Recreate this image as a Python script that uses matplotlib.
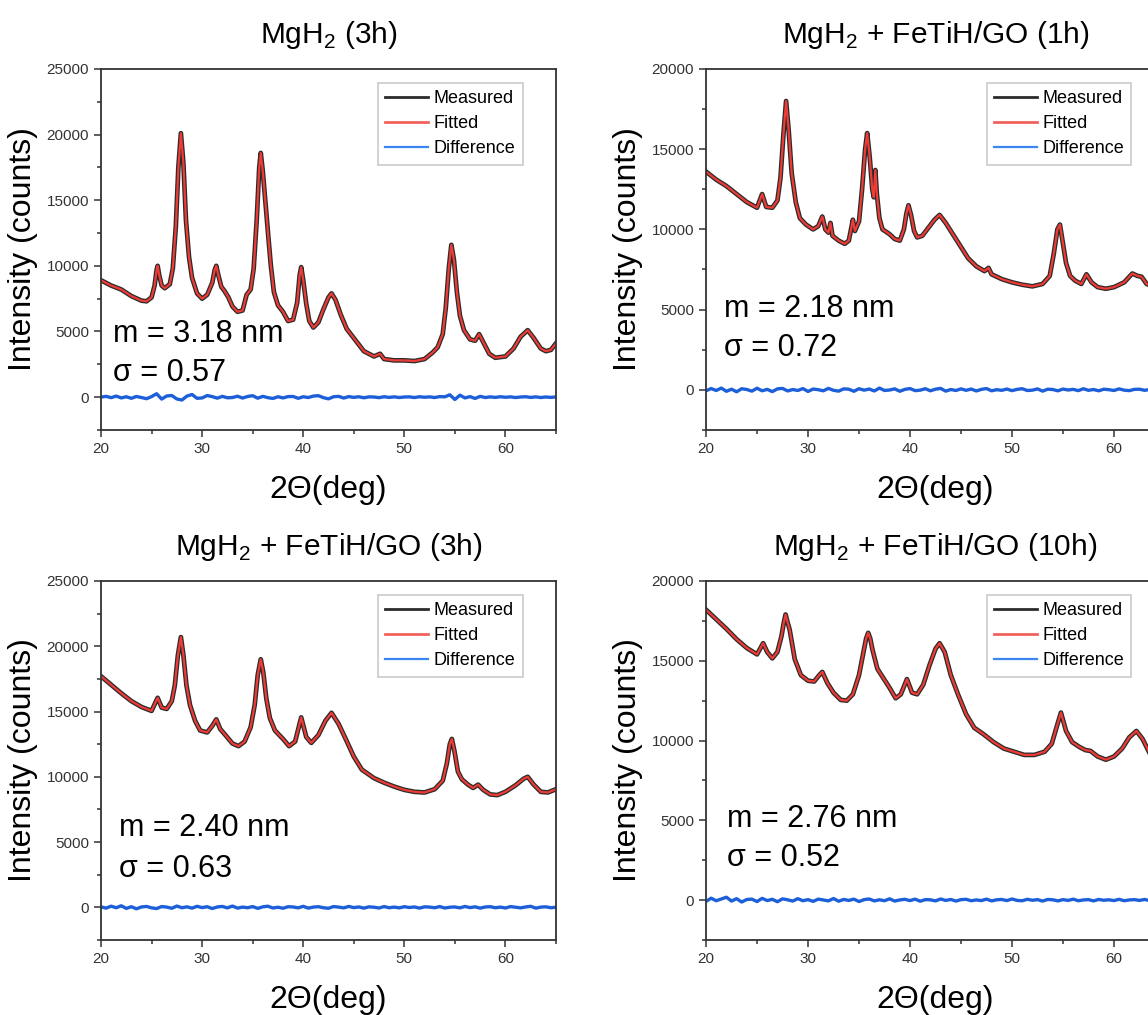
import matplotlib
matplotlib.use("Agg")
import matplotlib.pyplot as plt
from matplotlib.ticker import MultipleLocator
import numpy as np

plt.rcParams['font.family'] = ['Liberation Sans', 'DejaVu Sans']
plt.rcParams['mathtext.fontset'] = 'custom'
plt.rcParams['mathtext.rm'] = 'Liberation Sans'

# ---- panel (a): MgH2 (3h) ----
x_a = [20, 21, 22, 23, 24, 24.5, 25, 25.3, 25.5, 25.6, 25.75, 26.0, 26.3, 26.8, 27.1, 27.4, 27.65, 27.9,
       28.15, 28.4, 28.7, 29.0, 29.5, 30, 30.5, 31.0, 31.25, 31.4, 31.6, 31.9, 32.2, 32.6, 33, 33.5, 34.0,
       34.4, 34.8, 35.1, 35.4, 35.65, 35.8, 36.0, 36.3, 36.55, 36.8, 37.1, 37.5, 38, 38.5, 39.0, 39.4, 39.65,
       39.8, 40.0, 40.3, 40.6, 41.0, 41.5, 42.0, 42.5, 42.8, 43.2, 43.7, 44.3, 45, 46, 47, 47.6, 48, 49, 50,
       51, 52, 52.8, 53.3, 53.8, 54.1, 54.4, 54.65, 54.9, 55.2, 55.5, 55.9, 56.5, 57.0, 57.4, 57.8, 58.4, 59,
       60, 60.8, 61.5, 62.2, 62.8, 63.5, 64, 64.5, 65]
meas_a = [8900, 8500, 8200, 7700, 7350, 7300, 7600, 8500, 9700, 10000, 9300, 8500, 8300, 8600, 9800, 13000,
          17500, 20100, 17800, 13500, 10700, 9100, 7900, 7500, 7800, 8700, 9700, 10000, 9300, 8400, 8100,
          7600, 6900, 6500, 6600, 7800, 8200, 9800, 13500, 17500, 18600, 17200, 14500, 12200, 10000, 8000,
          7000, 6500, 5800, 5900, 7200, 9300, 9900, 8900, 7100, 5800, 5300, 5700, 6700, 7600, 7900, 7400,
          6300, 5200, 4500, 3500, 3100, 3300, 2900, 2800, 2800, 2750, 2900, 3400, 3800, 4800, 6800, 9800,
          11600, 10500, 8000, 6200, 5100, 4400, 4300, 4800, 4200, 3300, 3000, 3100, 3700, 4600, 5100, 4500,
          3700, 3500, 3600, 4100]
fit_a = meas_a
diff_a = [0, 60, -40, 80, -60, 30, -90, 50, -30, -120, 40, 260, -150, 90, 120, -140, -220, 80, 200, -90,
          -60, 120, 40, -80, 60, -50, -30, 70, -70, 50, 110, -80, 60, -40, -100, 30, -60, 40, 50, -90,
          30, -30, 80, 110, -40, -130, 30, 60, -70, 40, -20, 30, -50, 20, 10, -40, 30, -20, 20, -30,
          10, 20, -30, 30, -10, 20, -30, 40, 20, 180, -180, 150, -60, 40, -100, 60, -30, 20, -20, 30,
          -10, 20, -30, 10, 30, -20, 20, -30, 10, -20, 20]

# ---- panel (b): MgH2 + FeTiH/GO (1h) ----
x_b = [20, 21, 22, 23, 24, 25, 25.5, 25.9, 26.5, 27.0, 27.3, 27.6, 27.85, 28.1, 28.4, 28.8, 29.2, 29.8, 30.5,
       31.0, 31.4, 31.7, 32.0, 32.2, 32.4, 33.0, 33.6, 34.0, 34.4, 34.6, 35.0, 35.3, 35.6, 35.8, 36.05, 36.3,
       36.45, 36.6, 36.75, 37.0, 37.3, 38, 38.5, 39.0, 39.4, 39.65, 39.85, 40.1, 40.4, 40.7, 41.2, 41.8, 42.4,
       42.9, 43.5, 44.2, 45.0, 45.7, 46.5, 47.3, 47.7, 48.0, 49, 50, 51, 52, 53, 53.7, 54.1, 54.45, 54.7,
       54.95, 55.3, 55.7, 56.2, 56.8, 57.3, 57.8, 58.4, 59.2, 60, 61, 61.8, 62.3, 62.7, 63.2, 64, 65]
meas_b = [13600, 13100, 12700, 12200, 11700, 11350, 12200, 11400, 11350, 11800, 13200, 16000, 18000, 16200,
          13500, 11700, 10700, 10300, 10000, 10200, 10800, 10000, 9800, 10400, 9600, 9300, 9100, 9300, 10600,
          9900, 10500, 12500, 15000, 16000, 14500, 12500, 12000, 13700, 12200, 10700, 10000, 9700, 9400, 9300,
          10000, 11000, 11500, 10900, 9900, 9500, 9600, 10100, 10600, 10900, 10400, 9700, 8900, 8200, 7700,
          7400, 7600, 7200, 6900, 6700, 6550, 6450, 6600, 7100, 8500, 10000, 10300, 9300, 7900, 7100, 6800,
          6600, 7200, 6700, 6400, 6300, 6400, 6700, 7250, 7100, 7050, 6600, 6400, 6300]
fit_b = meas_b
diff_b = [-60, 80, -40, 110, -90, 40, -120, 70, 20, -80, 100, -60, 30, -110, 60, 90, -70, 20, -40, 80,
          -100, 50, 10, -60, 90, -30, -80, 60, 40, -90, 70, -20, 50, -70, 110, -40, -10, 60, -90, 30,
          80, -50, -20, 70, -60, 40, 90, -80, 20, -40, 60, -30, 50, -70, 30, 80, -60, 10, -30, 50,
          -50, 30, 70, -40, -20, 60, -80, 40, 20, -60, 50, -10, 30, -50, 70, -30, 20, -60, 40, 10,
          -40, 60, -20, -50, 30, 40, -30, 20, -60, 30, -20]

# ---- panel (c): MgH2 + FeTiH/GO (3h) ----
x_c = [20, 21, 22, 23, 24, 25, 25.6, 26.0, 26.5, 27.0, 27.3, 27.6, 27.9, 28.15, 28.45, 28.8, 29.3, 29.8, 30.5,
       31.0, 31.4, 31.8, 32.3, 33.0, 33.6, 34.2, 34.8, 35.2, 35.5, 35.8, 36.05, 36.35, 36.7, 37.2, 38.0, 38.6,
       39.2, 39.8, 40.3, 40.8, 41.5, 42.2, 42.8, 43.5, 44.2, 45.0, 45.8, 47, 48, 49, 50, 51, 52, 53, 53.8,
       54.2, 54.5, 54.7, 54.95, 55.3, 55.7, 56.3, 56.8, 57.3, 57.8, 58.5, 59.2, 60, 61, 61.8, 62.2, 62.8,
       63.5, 64.2, 65]
meas_c = [17700, 17050, 16400, 15800, 15350, 15050, 16050, 15300, 15200, 15800, 17000, 19300, 20700, 19300,
          17000, 15500, 14300, 13550, 13400, 13900, 14400, 13650, 13200, 12550, 12350, 12700, 13800, 15500,
          17800, 19000, 18000, 16000, 14500, 13550, 12900, 12350, 12700, 14550, 13050, 12600, 13200, 14300,
          14900, 14050, 12900, 11550, 10550, 9900, 9550, 9250, 9000, 8850, 8800, 9050, 9700, 11000, 12500,
          12900, 12000, 10400, 9800, 9400, 9150, 9400, 9000, 8650, 8600, 8850, 9350, 9850, 10000, 9400, 8850,
          8800, 9050]
fit_c = meas_c
diff_c = [40, -60, 90, -30, 120, -80, 50, -110, 30, 70, -40, -90, 60, 20, -70, 100, -30, 40, -60, 80,
          -20, 50, -90, 30, 70, -40, 100, -60, 20, -30, 60, -80, 40, 90, -50, 10, -70, 50, 30, -40,
          80, -60, 20, 50, -30, -70, 60, 20, -40, 70, -20, 30, -60, 40, 10, -50, 60, -30, 20, -40,
          50, -10, 30, -60, 40, 20, -30, 60, -50, 10, 30, -40, 70, -20, 40, -60, 30, 50, -30, 20,
          -50, 60, 10, -40, 30, 80, -60, 20, 40, -30, 10]

# ---- panel (d): MgH2 + FeTiH/GO (10h) ----
x_d = [20, 21, 22, 23, 24, 25, 25.6, 26.0, 26.5, 27.0, 27.4, 27.6, 27.8, 28.0, 28.2, 28.7, 29.3, 30.0, 30.6,
       31.1, 31.4, 31.9, 32.5, 33.2, 33.8, 34.4, 35.0, 35.5, 35.7, 35.9, 36.1, 36.3, 36.8, 37.4, 38.0, 38.6,
       39.1, 39.7, 40.2, 40.7, 41.3, 41.9, 42.5, 42.9, 43.4, 44.0, 44.7, 45.5, 46.3, 47.2, 48.2, 49.2, 50.2,
       51.2, 52.2, 53.2, 53.9, 54.4, 54.8, 55.3, 55.9, 56.6, 57.2, 57.7, 58.4, 59.2, 60.0, 60.8, 61.5, 62.2,
       62.8, 63.5, 64, 65]
meas_d = [18200, 17600, 17000, 16350, 15800, 15400, 16100, 15550, 15150, 15550, 16550, 17300, 17900, 17400,
          16950, 15100, 14100, 13750, 13700, 14100, 14300, 13600, 13000, 12550, 12500, 12900, 14100, 15750,
          16400, 16750, 16400, 15750, 14500, 13900, 13300, 12650, 12900, 13850, 13000, 12900, 13500, 14700,
          15750, 16100, 15550, 14100, 12900, 11650, 10800, 10400, 9900, 9500, 9300, 9100, 9100, 9300, 9800,
          10900, 11750, 10600, 9900, 9600, 9400, 9350, 9000, 8800, 9000, 9500, 10200, 10600, 10100, 9200,
          8900, 8700]
fit_d = meas_d
diff_d = [-80, 120, -40, 70, 180, -60, 90, -120, 40, 60, -90, 110, -30, 50, -100, 80, 20, -60, 90, -40,
          30, -80, 60, 10, -50, 100, -70, 40, -20, 60, -90, 30, 70, -50, 20, -40, 80, -60, 10, 50,
          -30, 60, -70, 30, 20, -50, 70, -20, 40, -60, 30, 50, -40, 10, -30, 60, -50, 20, 40, -30,
          70, -20, -40, 50, -10, 30, -60, 40, 20, -50, 30, -20, 60, -40, 10, 30, -50, 40, -10, 20,
          -30, 50, -40, 10, 30, -20, 40, -30, 20, -10, 10]

titles = ['MgH$_\\mathregular{2}$ (3h)', 'MgH$_\\mathregular{2}$ + FeTiH/GO (1h)',
          'MgH$_\\mathregular{2}$ + FeTiH/GO (3h)', 'MgH$_\\mathregular{2}$ + FeTiH/GO (10h)']
m_vals = ['3.18', '2.18', '2.40', '2.76']
sigma_vals = ['0.57', '0.72', '0.63', '0.52']
y_tops = [25000, 20000, 25000, 20000]

panels = [(x_a, meas_a, fit_a, diff_a), (x_b, meas_b, fit_b, diff_b),
          (x_c, meas_c, fit_c, diff_c), (x_d, meas_d, fit_d, diff_d)]

# axes boxes in figure fraction (right-hand panels run past the figure edge)
boxes = [[0.088, 0.5764, 0.3963, 0.3557], [0.615, 0.5764, 0.3998, 0.3557],
         [0.088, 0.0739, 0.3963, 0.3537], [0.615, 0.0739, 0.3998, 0.3537]]
# text anchors (x in deg, y in counts) for the m / sigma labels
text_pos = [(21.15, 4800, 1850), (21.8, 5040, 2590), (21.8, 6050, 2920), (22.1, 5080, 2620)]

fig = plt.figure(figsize=(11.48, 10.15), dpi=100)

for i, (xs, meas, fit, diff) in enumerate(panels):
    ax = fig.add_axes(boxes[i])
    xd = np.linspace(20, 65, len(diff))
    ax.plot(xs, meas, color='#2b2b2b', lw=3.4, label='Measured', solid_joinstyle='round')
    ax.plot(xs, fit, color='#ee3b35', lw=1.6, label='Fitted', solid_joinstyle='round')
    ax.plot(xd, diff, color='#1d5fd8', lw=2.4, label='Difference')

    ax.set_xlim(20, 65)
    ax.set_ylim(-2500, y_tops[i])
    ax.set_yticks(np.arange(0, y_tops[i] + 1, 5000))
    ax.set_xticks([20, 30, 40, 50, 60])
    ax.xaxis.set_minor_locator(MultipleLocator(5))
    ax.yaxis.set_minor_locator(MultipleLocator(2500))
    ax.tick_params(which='both', direction='out', top=False, right=False, labelsize=11,
                   labelcolor='#333333', color='#333333', width=1.1)
    ax.tick_params(which='major', length=5)
    ax.tick_params(which='minor', length=3)
    for s in ax.spines.values():
        s.set_linewidth(1.3)
        s.set_color('#333333')

    ax.set_title(titles[i], fontsize=21.5, pad=19)
    ax.set_xlabel('2\u0398(deg)', fontsize=23, labelpad=14)
    ax.set_ylabel('Intensity (counts)', fontsize=23, labelpad=6)

    tx, ty_m, ty_s = text_pos[i]
    ax.text(tx, ty_m, 'm = ' + m_vals[i] + ' nm', fontsize=22, va='center', ha='left')
    ax.text(tx, ty_s, '\u03c3 = ' + sigma_vals[i], fontsize=22, va='center', ha='left')

    leg = ax.legend(loc='upper right', bbox_to_anchor=(0.927, 0.961), fontsize=13, frameon=True,
                    fancybox=False, edgecolor='#bdbdbd', handlelength=2.4, handletextpad=0.3,
                    borderpad=0.4, labelspacing=0.45, borderaxespad=0)
    leg.get_frame().set_linewidth(1.2)
    leg.get_lines()[0].set_linewidth(2.0)
    leg.get_lines()[1].set_color('#f2625c')
    leg.get_lines()[1].set_linewidth(2.0)
    leg.get_lines()[2].set_color('#3b86f0')
    leg.get_lines()[2].set_linewidth(1.6)

fig.savefig('out.png', dpi=100)
